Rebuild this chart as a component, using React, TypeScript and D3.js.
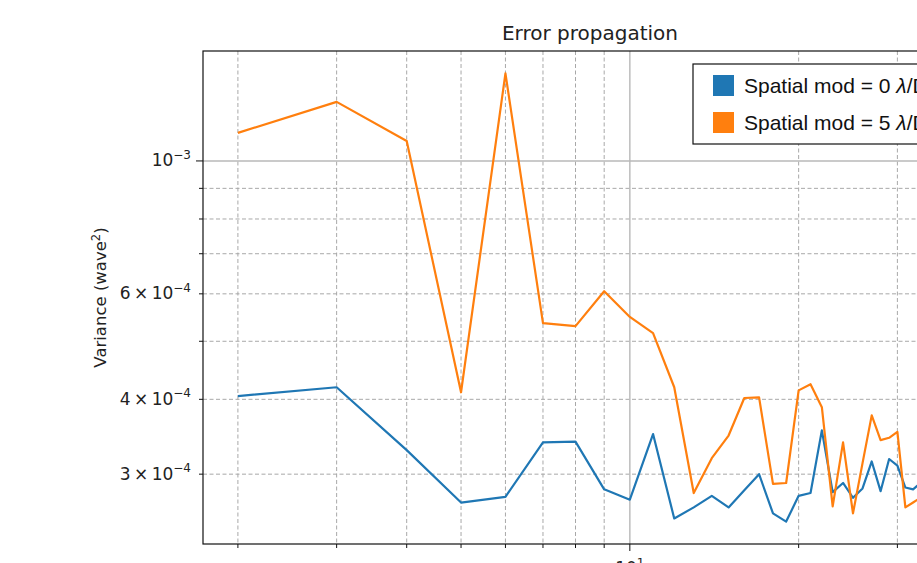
import * as d3 from 'd3'
import { useRef, useEffect } from 'react'

// x positions (log axis) and the two variance series
const xValues = [2, 3, 4, 5, 6, 7, 8, 9, 10, 11, 12, 13, 14, 15, 16, 17, 18, 19, 20, 21, 22, 23, 24, 25, 26, 27, 28, 29, 30, 31, 32, 33]
const spatialMod0 = [
  4.05e-4, 4.19e-4, 3.29e-4, 2.69e-4, 2.75e-4, 3.39e-4, 3.4e-4, 2.83e-4, 2.72e-4, 3.5e-4, 2.53e-4, 2.64e-4,
  2.76e-4, 2.64e-4, 2.82e-4, 3.0e-4, 2.58e-4, 2.5e-4, 2.76e-4, 2.79e-4, 3.55e-4, 2.8e-4, 2.9e-4, 2.74e-4,
  2.84e-4, 3.15e-4, 2.81e-4, 3.18e-4, 3.1e-4, 2.85e-4, 2.83e-4, 2.9e-4,
]
const spatialMod5 = [
  1.114e-3, 1.255e-3, 1.08e-3, 4.11e-4, 1.4e-3, 5.36e-4, 5.3e-4, 6.06e-4, 5.49e-4, 5.16e-4, 4.19e-4, 2.79e-4,
  3.19e-4, 3.48e-4, 4.02e-4, 4.03e-4, 2.89e-4, 2.9e-4, 4.14e-4, 4.24e-4, 3.88e-4, 2.65e-4, 3.39e-4, 2.58e-4,
  3.13e-4, 3.76e-4, 3.42e-4, 3.45e-4, 3.53e-4, 2.64e-4, 2.69e-4, 2.74e-4,
]
const seriesLabels = ['Spatial mod = 0 ', 'Spatial mod = 5 ']
const seriesColors = ['#1f77b4', '#ff7f0e']

// ticks
const xMajorTicks = [10]
const xMinorTicks = [2, 3, 4, 5, 6, 7, 8, 9, 20, 30, 40]
const yMajorTicks = [1e-3]
const yMinorTicks = [3e-4, 4e-4, 5e-4, 6e-4, 7e-4, 8e-4, 9e-4]
const yLabelledTicks = [1e-3, 6e-4, 4e-4, 3e-4]
const xDomain = [1.733, 41.6]

const W = 917
const H = 563
const margin = { left: 203, top: 51, right: 977, bottom: 544 }

const App = () => {
  const svgRef = useRef(null)

  useEffect(() => {
    const svg = d3.select(svgRef.current)
    svg.selectAll('*').remove() // clear

    const all = spatialMod0.concat(spatialMod5)
    const lo = Math.log10(d3.min(all))
    const hi = Math.log10(d3.max(all))
    const pad = (hi - lo) * 0.05

    const x = d3.scaleLog().domain(xDomain).range([margin.left, margin.right])
    const y = d3
      .scaleLog()
      .domain([Math.pow(10, lo - pad), Math.pow(10, hi + pad)])
      .range([margin.bottom, margin.top])

    svg
      .append('defs')
      .append('clipPath')
      .attr('id', 'plot-clip')
      .append('rect')
      .attr('x', margin.left)
      .attr('y', margin.top)
      .attr('width', margin.right - margin.left)
      .attr('height', margin.bottom - margin.top)

    // grid
    const grid = svg.append('g')
    grid
      .selectAll('.gxm')
      .data(xMinorTicks)
      .enter()
      .append('line')
      .attr('x1', d => x(d))
      .attr('x2', d => x(d))
      .attr('y1', margin.top)
      .attr('y2', margin.bottom)
      .attr('stroke', '#a8a8a8')
      .attr('stroke-dasharray', '4,2.5')
    grid
      .selectAll('.gym')
      .data(yMinorTicks)
      .enter()
      .append('line')
      .attr('x1', margin.left)
      .attr('x2', margin.right)
      .attr('y1', d => y(d))
      .attr('y2', d => y(d))
      .attr('stroke', '#a8a8a8')
      .attr('stroke-dasharray', '4,2.5')
    grid
      .selectAll('.gxM')
      .data(xMajorTicks)
      .enter()
      .append('line')
      .attr('x1', d => x(d))
      .attr('x2', d => x(d))
      .attr('y1', margin.top)
      .attr('y2', margin.bottom)
      .attr('stroke', '#b8b8b8')
      .attr('stroke-width', 1.4)
    grid
      .selectAll('.gyM')
      .data(yMajorTicks)
      .enter()
      .append('line')
      .attr('x1', margin.left)
      .attr('x2', margin.right)
      .attr('y1', d => y(d))
      .attr('y2', d => y(d))
      .attr('stroke', '#b8b8b8')
      .attr('stroke-width', 1.4)

    // series lines
    const line = d3
      .line()
      .x((d, i) => x(xValues[i]))
      .y(d => y(d))
    svg
      .append('g')
      .attr('clip-path', 'url(#plot-clip)')
      .selectAll('path')
      .data([spatialMod0, spatialMod5])
      .enter()
      .append('path')
      .attr('d', d => line(d))
      .attr('fill', 'none')
      .attr('stroke', (d, i) => seriesColors[i])
      .attr('stroke-width', 2.2)
      .attr('stroke-linejoin', 'round')

    // spines
    svg
      .append('rect')
      .attr('x', margin.left)
      .attr('y', margin.top)
      .attr('width', margin.right - margin.left)
      .attr('height', margin.bottom - margin.top)
      .attr('fill', 'none')
      .attr('stroke', '#111')
      .attr('stroke-width', 1.2)

    // ticks
    const ticks = svg.append('g').attr('stroke', '#111').attr('stroke-width', 1)
    xMinorTicks.concat(xMajorTicks).forEach(t => {
      const len = xMajorTicks.includes(t) ? 7 : 4
      ticks.append('line').attr('x1', x(t)).attr('x2', x(t)).attr('y1', margin.bottom).attr('y2', margin.bottom + len)
    })
    yMinorTicks.concat(yMajorTicks).forEach(t => {
      const len = yMajorTicks.includes(t) ? 7 : 4
      ticks.append('line').attr('x1', margin.left - len).attr('x2', margin.left).attr('y1', y(t)).attr('y2', y(t))
    })

    const font = 'DejaVu Sans, sans-serif'

    // y tick labels
    yLabelledTicks.forEach(t => {
      const exp = Math.floor(Math.log10(t) + 1e-9)
      const mant = Math.round(t / Math.pow(10, exp))
      const txt = svg
        .append('text')
        .attr('x', margin.left - 12)
        .attr('y', y(t) + 5.5)
        .attr('text-anchor', 'end')
        .attr('font-family', font)
        .attr('font-size', 17)
        .attr('fill', '#222')
      txt.append('tspan').text(mant === 1 ? '10' : `${mant}\u2009×\u200910`)
      txt
        .append('tspan')
        .attr('dy', -7.5)
        .attr('font-size', 12)
        .text(`−${-exp}`)
    })

    // x tick labels
    xMajorTicks.forEach(t => {
      const txt = svg
        .append('text')
        .attr('x', x(t))
        .attr('y', margin.bottom + 30)
        .attr('text-anchor', 'middle')
        .attr('font-family', font)
        .attr('font-size', 17)
        .attr('fill', '#222')
      txt.append('tspan').text('10')
      txt.append('tspan').attr('dy', -7.5).attr('font-size', 12).text(Math.round(Math.log10(t)))
    })

    // title
    svg
      .append('text')
      .attr('x', (margin.left + margin.right) / 2)
      .attr('y', 40)
      .attr('text-anchor', 'middle')
      .attr('font-family', font)
      .attr('font-size', 20)
      .attr('fill', '#222')
      .text('Error propagation')

    // y label
    const yl = svg
      .append('text')
      .attr('transform', `translate(106, ${(margin.top + margin.bottom) / 2}) rotate(-90)`)
      .attr('text-anchor', 'middle')
      .attr('font-family', font)
      .attr('font-size', 16.5)
      .attr('fill', '#222')
    yl.append('tspan').text('Variance (wave')
    yl.append('tspan').attr('dy', -6).attr('font-size', 11.5).text('2')
    yl.append('tspan').attr('dy', 6).text(')')

    // legend
    const lg = svg.append('g').attr('transform', 'translate(693, 64)')
    lg.append('rect')
      .attr('x', 0)
      .attr('y', 0)
      .attr('width', 330)
      .attr('height', 80)
      .attr('fill', 'white')
      .attr('stroke', '#111')
      .attr('stroke-width', 1.2)
    seriesLabels.forEach((label, i) => {
      const row = lg.append('g').attr('transform', `translate(0, ${11 + i * 37})`)
      row.append('rect').attr('x', 20).attr('y', 0).attr('width', 21).attr('height', 21).attr('fill', seriesColors[i])
      const t = row
        .append('text')
        .attr('x', 51)
        .attr('y', 18)
        .attr('font-family', 'Liberation Sans, Arial, sans-serif')
        .attr('font-size', 21)
        .attr('fill', '#111')
      t.append('tspan').text(label)
      t.append('tspan').attr('font-style', 'italic').text('λ')
      t.append('tspan').text('/D')
    })
  }, [])

  return (
    <svg
      ref={svgRef}
      width={W}
      height={H}
      style={{ position: 'absolute', left: 0, top: 0, background: 'white' }}
    ></svg>
  )
}

export default App
